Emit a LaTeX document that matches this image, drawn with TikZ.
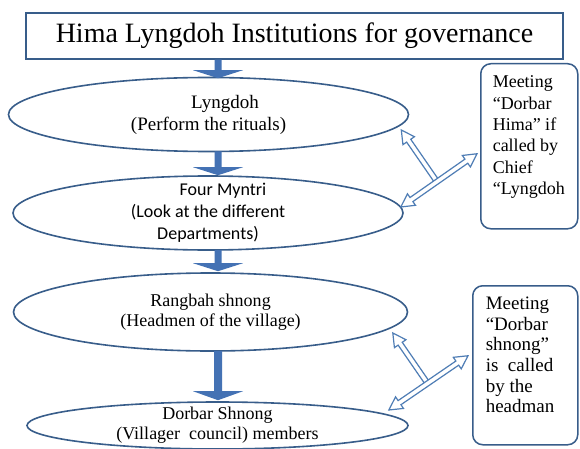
\documentclass[tikz,border=0pt]{standalone}
\usepackage{fontspec}
\setmainfont{Liberation Serif}
\newfontfamily\tnr{Liberation Serif}
\newfontfamily\calibri{Carlito}
\usetikzlibrary{calc,shapes.geometric}
\definecolor{edgeblue}{HTML}{385D8A}
\definecolor{fatblue}{HTML}{4472B4}
\definecolor{hollowblue}{HTML}{4F7DB5}
\tikzset{
  ell/.style={ellipse, draw=edgeblue, line width=1.6pt, inner xsep=0pt, inner ysep=-15pt, align=center},
  notebox/.style={draw=edgeblue, line width=1.5pt, rounded corners=10pt, inner sep=0pt, anchor=north west},
  titlebox/.style={draw=edgeblue, line width=1.5pt, inner sep=0pt, minimum width=537pt, minimum height=46pt},
  hollow/.style={draw=hollowblue, line width=1.2pt, fill=white, line join=miter},
  fat/.style={fill=fatblue}
}
% thick downward arrow: start, tip, stem half width, head length
\newcommand\fatarrow[4]{%
  \fill[fat] ($(#1)+(-#3,0)$) -- ($(#2)+(-#3,-#4)$) -- ($(#2)+(-25,-#4)$) -- (#2)
    -- ($(#2)+(25,-#4)$) -- ($(#2)+(#3,-#4)$) -- ($(#1)+(#3,0)$) -- cycle;}
% hollow double-headed arrow
\newcommand\dblarrow[2]{%
  \draw[hollow] (#1)
    -- ($($(#1)!13pt!(#2)$)!7pt!90:(#2)$)
    -- ($($(#1)!13pt!(#2)$)!2.5pt!90:(#2)$)
    -- ($($(#2)!13pt!(#1)$)!2.5pt!-90:(#1)$)
    -- ($($(#2)!13pt!(#1)$)!7pt!-90:(#1)$)
    -- (#2)
    -- ($($(#2)!13pt!(#1)$)!7pt!90:(#1)$)
    -- ($($(#2)!13pt!(#1)$)!2.5pt!90:(#1)$)
    -- ($($(#1)!13pt!(#2)$)!2.5pt!-90:(#2)$)
    -- ($($(#1)!13pt!(#2)$)!7pt!-90:(#2)$)
    -- cycle;}
% hollow single-headed arrow: base, tip
\newcommand\sglarrow[2]{%
  \draw[hollow] ($(#1)!2.5pt!90:(#2)$)
    -- ($($(#2)!13pt!(#1)$)!2.5pt!-90:(#1)$)
    -- ($($(#2)!13pt!(#1)$)!7pt!-90:(#1)$)
    -- (#2)
    -- ($($(#2)!13pt!(#1)$)!7pt!90:(#1)$)
    -- ($($(#2)!13pt!(#1)$)!2.5pt!90:(#1)$)
    -- ($(#1)!2.5pt!-90:(#2)$)
    -- cycle;}
\begin{document}
\begin{tikzpicture}[x=1pt,y=-1pt]
\fill[white] (0,0) rectangle (580,449);
\useasboundingbox (0,0) rectangle (580,449);

\node[titlebox, font=\tnr\fontsize{28}{30}\selectfont] (title) at (294.5,36) {Hima Lyngdoh Institutions for governance};

\node[ell, minimum width=400pt, minimum height=74pt, font=\tnr\fontsize{19}{22}\selectfont] (lyng) at (208.5,114.5)
  {\hspace*{33pt}Lyngdoh\\(Perform the rituals)};
\node[ell, minimum width=390pt, minimum height=74pt, font=\calibri\fontsize{18}{22}\selectfont] (myntri) at (208,213)
  {\hspace*{30pt}Four Myntri\\(Look at the different\\Departments)};
\node[ell, minimum width=394pt, minimum height=78pt, font=\tnr\fontsize{18}{20}\selectfont] (rang) at (210.5,312)
  {Rangbah shnong\\(Headmen of the village)};
\node[ell, minimum width=381pt, minimum height=47pt, font=\tnr\fontsize{18}{20}\selectfont] (dorbar) at (217.5,425.5)
  {Dorbar Shnong\\(Villager\ \ council) members};

\node[notebox] (hbox) at (480,63)
  {\begin{minipage}[c][165pt][t]{97pt}\raggedright\leftskip=12pt
   \tnr\fontsize{18}{21.4}\selectfont\vspace*{12pt}%
   Meeting\\“Dorbar\\Hima” if\\called by\\Chief\\“Lyngdoh\end{minipage}};
\node[notebox] (sbox) at (472,285)
  {\begin{minipage}[c][159pt][t]{105pt}\raggedright\leftskip=13pt
   \tnr\fontsize{19}{20.7}\selectfont\vspace*{11pt}%
   Meeting\\“Dorbar\\shnong”\\is\ \ called\\by the\\headman\end{minipage}};

% thick arrows
\coordinate (ax) at (218,0);
\coordinate (a1s) at (title.south -| ax);
\coordinate (a1t) at ($(lyng.north -| ax)+(0,1.5)$);
\coordinate (a2s) at ($(lyng.south -| ax)+(0,-1)$);
\coordinate (a2t) at (myntri.north -| ax);
\coordinate (a3s) at ($(myntri.south -| ax)+(0,-1)$);
\coordinate (a3t) at ($(rang.north -| ax)+(0,-1)$);
\coordinate (a4s) at ($(rang.south -| ax)+(0,-1)$);
\coordinate (a4t) at ($(dorbar.north -| ax)+(0,-1)$);
\fatarrow{a1s}{a1t}{3.5}{8}
\fatarrow{a2s}{a2t}{3.5}{8}
\fatarrow{a3s}{a3t}{3.5}{8}
\fatarrow{a4s}{a4t}{4}{9}

% hollow arrows, upper group
\coordinate (L1a) at ($(myntri.east)+(-3,-6)$);
\coordinate (L1b) at ($(hbox.west)+(-3,7.5)$);
\coordinate (J1) at ($(L1a)!0.475!(L1b)$);
\coordinate (B1) at ($(lyng.east)+(-8,15.5)$);
\sglarrow{J1}{B1}
\dblarrow{L1a}{L1b}

% hollow arrows, lower group
\coordinate (L2a) at ($(dorbar.east)+(-20,-15.5)$);
\coordinate (L2b) at ($(sbox.west)+(-4,-9.5)$);
\coordinate (J2) at ($(L2a)!0.49!(L2b)$);
\coordinate (B2) at ($(rang.east)+(-15.5,21)$);
\sglarrow{J2}{B2}
\dblarrow{L2a}{L2b}
\end{tikzpicture}
\end{document}
